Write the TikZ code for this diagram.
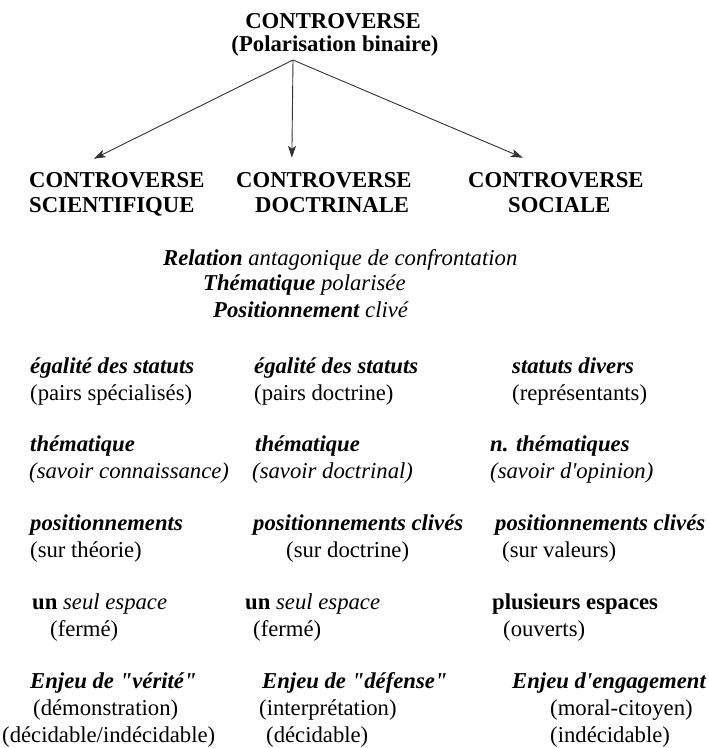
\documentclass[tikz,border=0pt]{standalone}
\usepackage{fontspec}
\defaultfontfeatures[\rmfamily]{}
\setmainfont{Liberation Serif}
\usetikzlibrary{arrows.meta}
\newcommand{\txtsize}{\fontsize{22.7pt}{27pt}\selectfont}

\begin{document}
\begin{tikzpicture}[x=1pt, y=-1pt,
txt/.style ={anchor=base west, inner sep=0pt, font=\txtsize},
ttl/.style ={txt, font=\txtsize\bfseries},
emph/.style ={txt, font=\txtsize\itshape},
bemph/.style ={txt, font=\txtsize\bfseries\itshape},
arr/.style ={-{Stealth[length=12pt,width=8pt,inset=3pt]}, line width=0.9pt, draw=black!80}]
\useasboundingbox (0,0) rectangle (709,748);

% head
\node[ttl, anchor=base] (top) at (333,28) {CONTROVERSE};
\node[ttl, anchor=base] (topsub) at (335,51) {(Polarisation binaire)};
\coordinate (hub) at (293,60);

% three kinds
\node[ttl] (csci) at (29,187) {CONTROVERSE};
\node[ttl] (csci2) at (29,212) {SCIENTIFIQUE};
\node[ttl] (cdoc) at (236,187) {CONTROVERSE};
\node[ttl] (cdoc2) at (255,212) {DOCTRINALE};
\node[ttl] (csoc) at (468,187) {CONTROVERSE};
\node[ttl] (csoc2) at (508,212) {SOCIALE};

\draw[arr] (hub) -- ([xshift=-23pt,yshift=13pt]csci.north);
\draw[arr] (hub) -- ([xshift=-32pt,yshift=14pt]cdoc.north);
\draw[arr] (hub) -- ([xshift=-33pt,yshift=14pt]csoc.north);

% common features
\node[emph] (rel) at (163,265) {\textbf{Relation} antagonique de confrontation};
\node[emph] (them) at (203,290) {\textbf{Thématique} polarisée};
\node[emph] (pos) at (213,317) {\textbf{Positionnement} clivé};

% scientifique
\node[bemph] (sciA) at (30,373) {égalité des statuts};
\node[txt] (sciA2) at (30,400) {(pairs spécialisés)};
\node[bemph] (sciB) at (30,451) {thématique};
\node[emph] (sciB2) at (29,478) {(savoir connaissance)};
\node[bemph] (sciC) at (30,530) {positionnements};
\node[txt] (sciC2) at (30,557) {(sur théorie)};
\node[txt] (sciD) at (32,609) {\textbf{un} \textit{seul espace}};
\node[txt] (sciD2) at (50,636) {(fermé)};
\node[bemph] (sciE) at (30,688) {Enjeu de "vérité"};
\node[txt] (sciE2) at (33,715) {(démonstration)};
\node[txt] (sciE3) at (2,742) {(décidable/indécidable)};

% doctrinale
\node[bemph] (docA) at (254,373) {égalité des statuts};
\node[txt] (docA2) at (254,400) {(pairs doctrine)};
\node[bemph] (docB) at (255,451) {thématique};
\node[emph] (docB2) at (252,478) {(savoir doctrinal)};
\node[bemph] (docC) at (253,530) {positionnements clivés};
\node[txt] (docC2) at (286,557) {(sur doctrine)};
\node[txt] (docD) at (245,609) {\textbf{un} \textit{seul espace}};
\node[txt] (docD2) at (253,636) {(fermé)};
\node[bemph] (docE) at (262,688) {Enjeu de "défense"};
\node[txt] (docE2) at (259,715) {(interprétation)};
\node[txt] (docE3) at (266,742) {(décidable)};

% sociale
\node[bemph] (socA) at (512,373) {statuts divers};
\node[txt] (socA2) at (512,400) {(représentants)};
\node[bemph] (socB) at (490,451) {n. thématiques};
\node[emph] (socB2) at (490,478) {(savoir d'opinion)};
\node[bemph] (socC) at (495,530) {positionnements clivés};
\node[txt] (socC2) at (502,557) {(sur valeurs)};
\node[ttl] (socD) at (492,609) {plusieurs espaces};
\node[txt] (socD2) at (503,636) {(ouverts)};
\node[bemph] (socE) at (512,688) {Enjeu d'engagement};
\node[txt] (socE2) at (550,715) {(moral-citoyen)};
\node[txt] (socE3) at (550,742) {(indécidable)};
\end{tikzpicture}
\end{document}
